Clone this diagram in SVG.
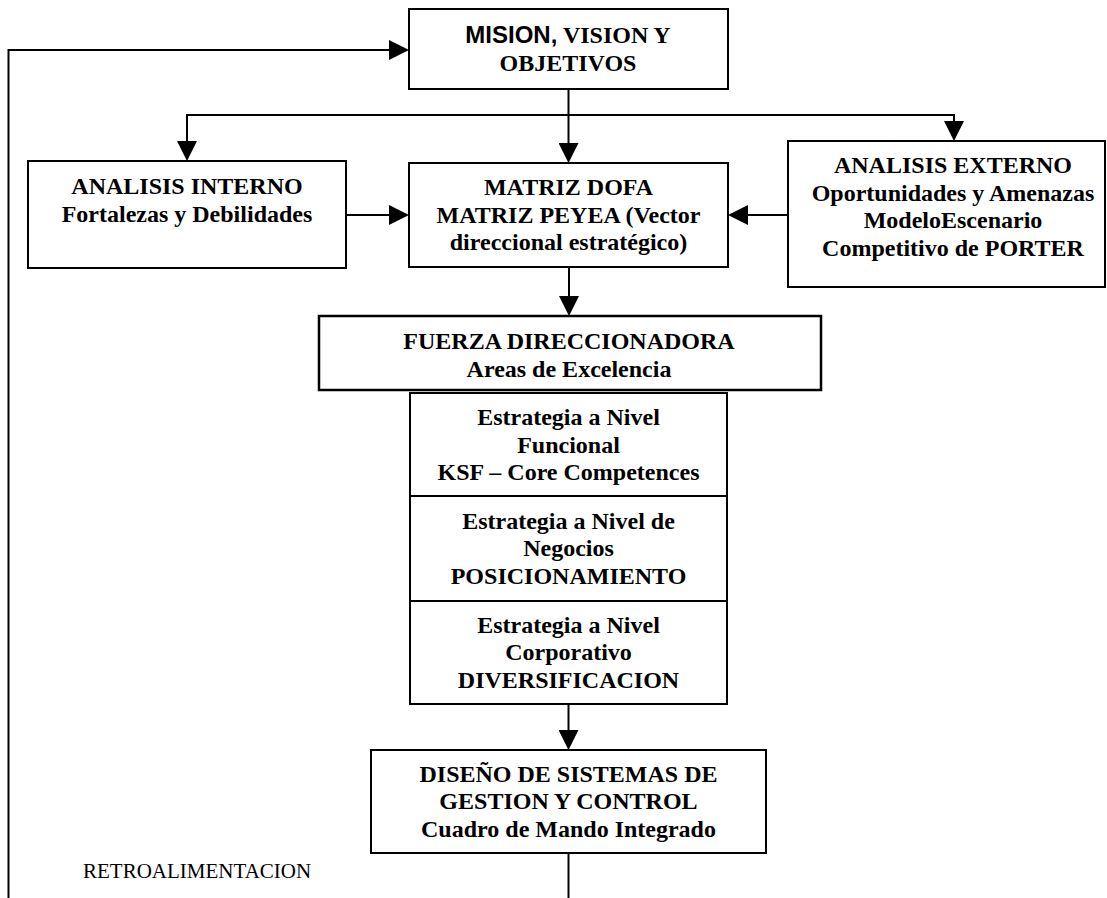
<svg xmlns="http://www.w3.org/2000/svg" width="1107" height="898" viewBox="0 0 1107 898">
  <style>
    .box { fill: #ffffff; stroke: #000000; stroke-width: 2; }
    .box-thick { fill: #ffffff; stroke: #000000; stroke-width: 2.5; }
    .wire { fill: none; stroke: #000000; stroke-width: 2; }
    .lbl { font-family: "Liberation Serif", "Times New Roman", serif; font-size: 24px; font-weight: bold; fill: #000000; text-anchor: middle; }
    .sans { font-family: "Liberation Sans", Arial, sans-serif; }
    .note { font-family: "Liberation Serif", "Times New Roman", serif; font-size: 21px; fill: #000000; }
  </style>
  <defs>
    <marker id="arrow" viewBox="0 0 20 20" refX="10" refY="10" markerWidth="20" markerHeight="20" markerUnits="userSpaceOnUse" orient="auto-start-reverse">
      <path d="M0,0 L20,10 L0,20 z" fill="#000000"/>
    </marker>
  </defs>

  <rect width="1107" height="898" fill="#ffffff"/>

  <!-- connectors -->
  <g id="connectors">
    <!-- feedback loop back to the top -->
    <path class="wire" d="M8.5,898 L8.5,50 L399,50" marker-end="url(#arrow)"/>
    <!-- from mission down to the analysis row -->
    <path class="wire" d="M568.5,89 L568.5,153" marker-end="url(#arrow)"/>
    <path class="wire" d="M187,151 L187,115 L954,115 L954,131" marker-start="url(#arrow)" marker-end="url(#arrow)"/>
    <!-- analyses into the matrices -->
    <path class="wire" d="M346,215 L399,215" marker-end="url(#arrow)"/>
    <path class="wire" d="M788,215 L738,215" marker-end="url(#arrow)"/>
    <!-- matrices to driving force -->
    <path class="wire" d="M569,267 L569,306" marker-end="url(#arrow)"/>
    <!-- strategies to management system design -->
    <path class="wire" d="M568.5,704 L568.5,740" marker-end="url(#arrow)"/>
    <path class="wire" d="M568.5,853 L568.5,898"/>
  </g>

  <g id="mision">
    <rect class="box" x="409" y="9" width="319" height="80"/>
    <text class="lbl" y="42.5"><tspan x="568" class="sans">MISION,</tspan><tspan> VISION Y</tspan></text>
    <text class="lbl" x="568" y="70.5">OBJETIVOS</text>
  </g>

  <g id="analisis-interno">
    <rect class="box" x="28" y="161" width="318" height="107"/>
    <text class="lbl" x="187" y="194">ANALISIS INTERNO</text>
    <text class="lbl" x="187" y="222">Fortalezas y Debilidades</text>
  </g>

  <g id="matriz">
    <rect class="box" x="409" y="163" width="319" height="104"/>
    <text class="lbl" x="568.5" y="195">MATRIZ DOFA</text>
    <text class="lbl" x="568.5" y="222.5">MATRIZ PEYEA (Vector</text>
    <text class="lbl" x="568.5" y="250">direccional estratégico)</text>
  </g>

  <g id="analisis-externo">
    <rect class="box" x="788" y="141" width="317" height="146"/>
    <text class="lbl" x="953" y="173">ANALISIS EXTERNO</text>
    <text class="lbl" x="953" y="200.5">Oportunidades y Amenazas</text>
    <text class="lbl" x="953" y="228">ModeloEscenario</text>
    <text class="lbl" x="953" y="256">Competitivo de PORTER</text>
  </g>

  <g id="fuerza">
    <rect class="box-thick" x="319" y="316" width="502" height="74"/>
    <text class="lbl" x="569" y="349">FUERZA DIRECCIONADORA</text>
    <text class="lbl" x="569" y="376.5">Areas de Excelencia</text>
  </g>

  <g id="estrategia-funcional">
    <rect class="box" x="410" y="393" width="317" height="103"/>
    <text class="lbl" x="568.5" y="425">Estrategia a Nivel</text>
    <text class="lbl" x="568.5" y="452.5">Funcional</text>
    <text class="lbl" x="568.5" y="480">KSF – Core Competences</text>
  </g>

  <g id="estrategia-negocios">
    <rect class="box" x="410" y="496" width="317" height="105"/>
    <text class="lbl" x="568.5" y="528.5">Estrategia a Nivel de</text>
    <text class="lbl" x="568.5" y="556">Negocios</text>
    <text class="lbl" x="568.5" y="583.5">POSICIONAMIENTO</text>
  </g>

  <g id="estrategia-corporativa">
    <rect class="box" x="410" y="601" width="317" height="103"/>
    <text class="lbl" x="568.5" y="632.5">Estrategia a Nivel</text>
    <text class="lbl" x="568.5" y="660">Corporativo</text>
    <text class="lbl" x="568.5" y="687.5">DIVERSIFICACION</text>
  </g>

  <g id="diseno">
    <rect class="box" x="371" y="750" width="395" height="103"/>
    <text class="lbl" x="568.5" y="781.5">DISEÑO DE SISTEMAS DE</text>
    <text class="lbl" x="568.5" y="809">GESTION Y CONTROL</text>
    <text class="lbl" x="568.5" y="836.5">Cuadro de Mando Integrado</text>
  </g>

  <g id="retroalimentacion">
    <text class="note" x="83" y="878">RETROALIMENTACION</text>
  </g>
</svg>
